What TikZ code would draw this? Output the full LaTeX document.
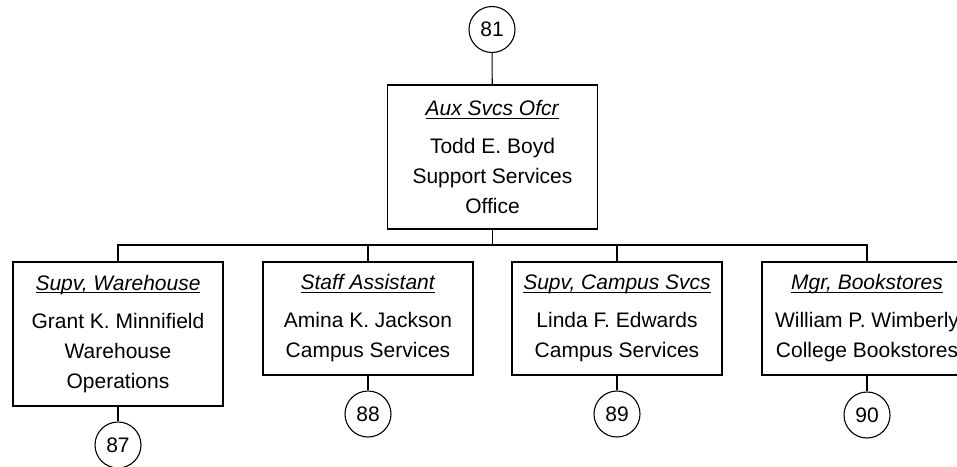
\documentclass[tikz,border=0pt]{standalone}
\usepackage{fontspec}
\setmainfont{Liberation Sans}
\newsavebox{\titlebox}
\newcommand{\jobtitle}[1]{\sbox{\titlebox}{\textit{#1}}%
  \rlap{\rule[-3pt]{\wd\titlebox}{1pt}}\usebox{\titlebox}\\[8pt]}
\begin{document}
\begin{tikzpicture}[x=1pt, y=-1pt, line width=1.1pt,
  every node/.style={font=\fontsize{21}{30}\selectfont},
  box/.style={draw, align=center, minimum width=210pt, inner sep=0pt},
  num/.style={draw, circle, minimum size=46pt, inner sep=0pt}]
  \clip (0,0) rectangle (957,466);
  \node[num] (c81) at (492,29.5) {81};
  \node[box, minimum height=144pt] (ofcr) at (492.5,157)
    {\jobtitle{Aux Svcs Ofcr}Todd E. Boyd\\Support Services\\Office};
  \node[box, minimum height=144pt] (whse) at (118,334)
    {\jobtitle{Supv, Warehouse}Grant K. Minnifield\\Warehouse\\Operations};
  \node[box, minimum height=113pt] (asst) at (368,318.5)
    {\jobtitle{Staff Assistant}Amina K. Jackson\\Campus Services};
  \node[box, minimum height=113pt] (csvc) at (617,318.5)
    {\jobtitle{Supv, Campus Svcs}Linda F. Edwards\\Campus Services};
  \node[box, minimum height=113pt] (book) at (867,318.5)
    {\jobtitle{Mgr, Bookstores}William P. Wimberly\\College Bookstores};
  \node[num] (c87) at (118,445) {87};
  \node[num] (c88) at (368,414) {88};
  \node[num] (c89) at (617,414) {89};
  \node[num] (c90) at (867,415) {90};
  \coordinate (bus) at (492.5,245);
  \draw (c81) -- (ofcr);
  \draw (ofcr.south) -- (bus);
  \draw (bus) -| (whse.north);
  \draw (bus) -| (asst.north);
  \draw (bus) -| (csvc.north);
  \draw (bus) -| (book.north);
  \draw (whse) -- (c87);
  \draw (asst) -- (c88);
  \draw (csvc) -- (c89);
  \draw (book) -- (c90);
\end{tikzpicture}
\end{document}
